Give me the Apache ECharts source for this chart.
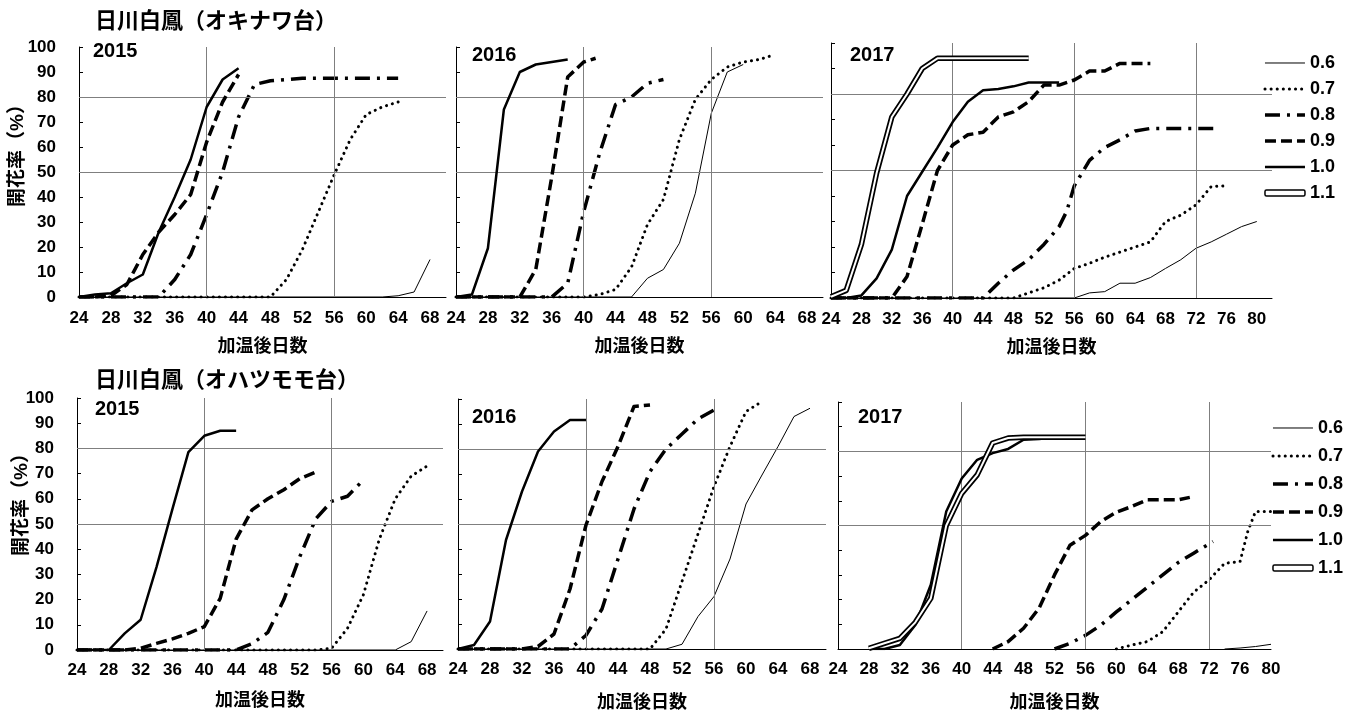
<!DOCTYPE html>
<html><head><meta charset="utf-8">
<script src="https://cdn.jsdelivr.net/npm/echarts@6/dist/echarts.min.js"></script>
<style>html,body{margin:0;padding:0;background:#fff}#c{width:1362px;height:713px}</style>
</head><body><div id="c"></div>
<script>
// ---------- labels ----------
const SERIES_NAMES = ['0.6', '0.7', '0.8', '0.9', '1.0', '1.1'];
const TITLE_TOP = '日川白鳳（オキナワ台）';
const TITLE_BOTTOM = '日川白鳳（オハツモモ台）';
const YEARS = ['2015', '2016', '2017', '2015', '2016', '2017'];
const X_NAME = '加温後日数';
const Y_NAME = '開花率（%）';
const REF_Y = [50, 80];
const REF_X_2 = [40, 56];
const REF_X_3 = [40, 56, 72];

// ---------- data: [day, %] ----------
// オキナワ台 2015
const ok15_06 = [[24,0],[62,0],[64,0.5],[66,2],[68,15]];
const ok15_07 = [[24,0],[48,0],[50,7],[52,19],[54,34],[56,49],[58,63],[60,73],[62,76],[64,78]];
const ok15_08 = [[24,0],[34,0],[36,7],[38,17],[40,33],[42,50],[44,72],[46,85],[48,86.5],[50,87],[52,87.5],[64,87.5]];
const ok15_09 = [[24,0],[26,0],[28,0.5],[30,5],[32,17],[34,26],[36,33],[38,41],[40,62],[42,78],[44,89]];
const ok15_10 = [[24,0],[26,1],[28,1.5],[30,5.5],[32,9],[34,26],[36,40],[38,55],[40,76],[42,87],[44,91.5]];
// オキナワ台 2016
const ok16_06 = [[24,0],[46,0],[48,7.5],[50,11],[52,21.5],[54,41.5],[56,73.5],[58,90],[60,93]];
const ok16_07 = [[24,0],[40,0],[42,1],[44,3],[46,12],[48,29],[50,39],[52,63],[54,79],[56,87],[58,92],[60,94],[62,95],[63.5,96.5]];
const ok16_08 = [[24,0],[36,0],[38,5.5],[40,34],[42,57.5],[44,77],[46,80],[48,85.5],[50,87]];
const ok16_09 = [[24,0],[32,0],[34,11],[36,48],[38,88],[40,94],[41.5,95.5]];
const ok16_10 = [[24,0],[26,1],[28,19.5],[30,75],[32,90],[34,93],[36,94],[38,95]];
// オキナワ台 2017
const ok17_06 = [[24,0],[56,0],[58,2],[60,2.5],[62,5.8],[64,5.8],[66,8],[68,11.6],[70,15],[72,19.5],[74,22],[76,25],[78,28],[80,30]];
const ok17_07 = [[24,0],[48,0],[50,2],[52,4],[54,7],[56,11.6],[58,13.6],[60,16],[62,18],[64,20],[66,22],[68,30],[70,32.5],[72,36.5],[74,43.7],[76,44]];
const ok17_08 = [[24,0],[44,0],[46,5.8],[48,11],[50,15],[52,21],[54,28],[55,34],[56,44],[58,54],[60,59],[62,62],[64,65.5],[66,66.5],[75,66.5]];
const ok17_09 = [[24,0],[32,0],[34,8.4],[36,29],[38,50],[40,60],[42,64],[44,65],[46,71],[48,73],[50,77],[52,83.5],[54,83.5],[56,85.5],[58,89],[60,89],[62,92],[66,92]];
const ok17_10 = [[24,0],[26,0],[28,1],[30,7.7],[32,19],[34,40],[36,49.5],[38,59],[40,69],[42,77],[44,81.5],[46,82],[48,83],[50,84.5],[52,84.5],[54,84.5]];
const ok17_11 = [[24,0.5],[26,3],[28,21],[30,49],[32,71],[34,80],[36,90],[38,94],[40,94],[50,94]];
// オハツモモ台 2015
const oh15_06 = [[24,0],[64,0],[66,3.3],[68,15.5]];
const oh15_07 = [[24,0],[54,0],[56,0.7],[58,8.6],[60,22],[62,44],[64,60],[66,69],[68,73]];
const oh15_08 = [[24,0],[44,0],[46,2.5],[48,7],[50,20],[52,37],[54,52],[56,59],[58,61],[60,67.5]];
const oh15_09 = [[24,0],[30,0],[32,0.7],[34,2.6],[36,4.4],[38,6.6],[40,9.3],[42,20.5],[44,44],[46,55.6],[48,60],[50,63.6],[52,68],[54,70.6]];
const oh15_10 = [[24,0],[28,0],[30,6.6],[32,12],[34,33],[36,56],[38,78.5],[40,85],[42,87],[44,87]];
// オハツモモ台 2016
const oh16_06 = [[24,0],[50,0],[52,1.9],[54,13],[56,21],[58,36],[60,58],[62,69.6],[64,81],[66,93],[68,96.3]];
const oh16_07 = [[24,0],[48,0],[50,8],[52,27],[54,46],[56,65],[58,81],[60,95],[62,99]];
const oh16_08 = [[24,0],[38,0],[40,5.5],[42,16],[44,36],[46,56],[48,71],[50,80],[52,86],[54,92],[56,95.6]];
const oh16_09 = [[24,0],[32,0],[34,1],[36,6],[38,24],[40,49.6],[42,67],[44,81],[46,97],[48,97.6]];
const oh16_10 = [[24,0],[26,1.6],[28,11],[30,43.6],[32,63],[34,79],[36,87],[38,91.6],[40,91.6]];
// オハツモモ台 2017
const oh17_06 = [[74,0],[76,0.4],[78,1],[80,1.9]];
const oh17_07 = [[60,0],[62,1.6],[64,3],[66,7],[68,15],[70,23],[72,28],[74,34.7],[76,35.4],[77,47.6],[78,55.7],[80,55.7]];
const oh17_08 = [[52,0],[54,2.3],[56,5.5],[58,9.7],[60,15],[62,20],[64,25],[66,30],[68,35],[70,38.8],[72.5,43.5]];
const oh17_09 = [[44,0],[46,3],[48,8.4],[50,16.5],[52,30],[54,42],[56,46],[58,51.6],[60,55.4],[62,57.7],[64,60.4],[66,60.4],[68,60.4],[69.5,61.4]];
const oh17_10 = [[28,0],[30,0],[32,1.6],[34,9.7],[36,26],[38,55.7],[40,69],[42,76.6],[44,79.3],[46,81],[48,84.7],[50,85],[52,85.6],[54,85.6]];
const oh17_11 = [[28,0.3],[30,2.3],[32,4.3],[34,10.8],[36,20.5],[38,50],[40,63],[42,70.5],[44,83.4],[46,85.4],[48,85.7],[56,85.7]];

// ---------- build ----------
const FONT = '"Liberation Sans", Arial, "Noto Sans CJK JP", sans-serif';
const panels = [
  {series: [ok15_06, ok15_07, ok15_08, ok15_09, ok15_10], refX: REF_X_2},
  {series: [ok16_06, ok16_07, ok16_08, ok16_09, ok16_10], refX: REF_X_2},
  {series: [ok17_06, ok17_07, ok17_08, ok17_09, ok17_10, ok17_11], refX: REF_X_3},
  {series: [oh15_06, oh15_07, oh15_08, oh15_09, oh15_10], refX: REF_X_2},
  {series: [oh16_06, oh16_07, oh16_08, oh16_09, oh16_10], refX: REF_X_2},
  {series: [oh17_06, oh17_07, oh17_08, oh17_09, oh17_10, oh17_11], refX: REF_X_3}
];
// layout (pixel geometry)
const layout = [
  {left:79,  top:47,  width:367, height:250, xMax:70, lm:13, ng:41, yr:[93,51]},
  {left:456, top:47,  width:367, height:250, xMax:70, lm:13, ng:41, yr:[472,55]},
  {left:831, top:43,  width:441, height:255, xMax:82, lm:13, ng:41, yr:[850,55]},
  {left:77,  top:398, width:366, height:252, xMax:70, lm:12, ng:42, yr:[95,409]},
  {left:458, top:399, width:368, height:250, xMax:70, lm:12, ng:45, yr:[472,417]},
  {left:838, top:402, width:433, height:247, xMax:80, lm:12, ng:45, yr:[858,417]}
];
const lineStyles = {
  '0.6': {color:'#000', width:1, type:'solid'},
  '0.7': {color:'#000', width:3, type:[0.1, 6], cap:'round'},
  '0.8': {color:'#000', width:3.5, type:[15, 7, 3, 7]},
  '0.9': {color:'#000', width:3.5, type:[11, 5]},
  '1.0': {color:'#000', width:2.5, type:'solid'},
  '1.1': {color:'#000', width:5.5, type:'solid'}
};

const grid = [], xAxis = [], yAxis = [], series = [], graphic = [];
layout.forEach((L, i) => {
  grid.push({left:L.left, top:L.top, width:L.width, height:L.height, containLabel:false});
  xAxis.push({
    gridIndex:i, type:'value', min:24, max:L.xMax, interval:4,
    axisLine:{show:true, onZero:false, lineStyle:{color:'#000', width:1}},
    axisTick:{show:false}, splitLine:{show:false},
    axisLabel:{margin:L.lm, fontSize:17, fontWeight:'bold', color:'#000', fontFamily:FONT,
      formatter: v => (v % 4 === 0 ? String(v) : '')},
    name:X_NAME, nameLocation:'middle', nameGap:L.ng,
    nameTextStyle:{fontSize:18, fontWeight:'bold', color:'#000', fontFamily:FONT}
  });
  yAxis.push({
    gridIndex:i, type:'value', min:0, max:100, interval:10,
    axisLine:{show:true, lineStyle:{color:'#000', width:1}},
    axisTick:{show:true, inside:true, length:4, lineStyle:{color:'#000'}},
    splitLine:{show:false},
    axisLabel:{show: i % 3 === 0, margin:23, fontSize:17, fontWeight:'bold', color:'#000', fontFamily:FONT}
  });
  // reference (guide) lines
  series.push({
    type:'line', name:'ref', xAxisIndex:i, yAxisIndex:i, data:[], z:1, silent:true,
    markLine:{silent:true, symbol:'none', label:{show:false}, animation:false,
      lineStyle:{color:'#7f7f7f', width:1, type:'solid'},
      data: REF_Y.map(v => ({yAxis:v})).concat(panels[i].refX.map(v => ({xAxis:v})))}
  });
  panels[i].series.forEach((d, k) => {
    const nm = SERIES_NAMES[k];
    series.push({
      type:'line', name:nm, xAxisIndex:i, yAxisIndex:i, data:d, symbol:'none', showSymbol:false,
      lineStyle:Object.assign({join:'round'}, lineStyles[nm]), z:2 + k, silent:true, animation:false
    });
    if (nm === '1.1') {
      series.push({
        type:'line', name:nm, xAxisIndex:i, yAxisIndex:i, data:d, symbol:'none', showSymbol:false,
        lineStyle:{color:'#fff', width:2, type:'solid', join:'round'}, z:2 + k, silent:true, animation:false
      });
    }
  });
  graphic.push({type:'text', x:L.yr[0], y:L.yr[1],
    style:{text:YEARS[i], font:'bold 20px ' + FONT, fill:'#000', textAlign:'left', textVerticalAlign:'middle'}});
});
graphic.push({type:'text', x:95, y:22,
  style:{text:TITLE_TOP, font:'bold 22px ' + FONT, fill:'#000', textAlign:'left', textVerticalAlign:'middle'}});
graphic.push({type:'text', x:95, y:381,
  style:{text:TITLE_BOTTOM, font:'bold 22px ' + FONT, fill:'#000', textAlign:'left', textVerticalAlign:'middle'}});
graphic.push({type:'text', x:18, y:151, rotation:Math.PI / 2,
  style:{text:Y_NAME, font:'bold 19px ' + FONT, fill:'#000', textAlign:'center', textVerticalAlign:'middle'}});
graphic.push({type:'text', x:22, y:500, rotation:Math.PI / 2,
  style:{text:Y_NAME, font:'bold 19px ' + FONT, fill:'#000', textAlign:'center', textVerticalAlign:'middle'}});

const legendWidths = {'0.6':1, '0.7':3, '0.8':3.5, '0.9':3.5, '1.0':2.5};
const legendData = SERIES_NAMES.map(n => n === '1.1'
  ? {name:n, icon:'roundRect', itemStyle:{color:'#fff', borderColor:'#000', borderWidth:1.5, opacity:1}}
  : {name:n, lineStyle:{width:legendWidths[n]}});
const legendBase = {
  orient:'vertical', align:'left', itemWidth:40, itemHeight:6, selectedMode:false, data:legendData,
  itemStyle:{color:'transparent', borderWidth:0},
  textStyle:{fontSize:18, fontWeight:'bold', color:'#000', fontFamily:FONT}
};

const chart = echarts.init(document.getElementById('c'), null, {renderer:'canvas'});
chart.setOption({
  backgroundColor:'#fff', animation:false,
  grid, xAxis, yAxis, series, graphic,
  legend:[
    Object.assign({}, legendBase, {right:22, top:49, itemGap:8}),
    Object.assign({}, legendBase, {right:14, top:414, itemGap:10})
  ]
});
</script></body></html>
